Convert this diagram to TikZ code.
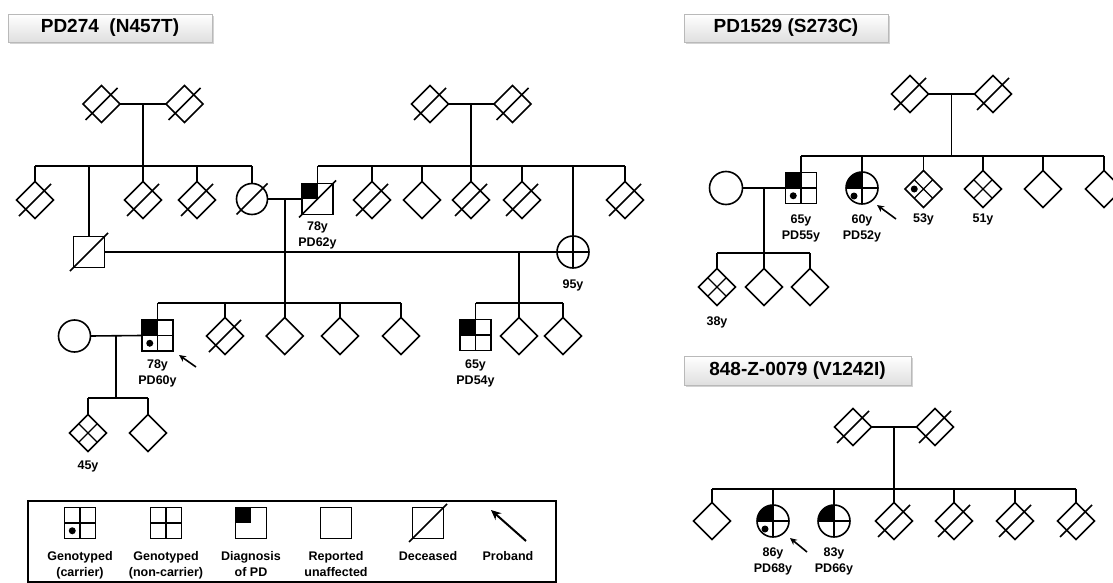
\documentclass[tikz,border=0pt]{standalone}
\usepackage{fontspec}
\setmainfont{Liberation Sans}
\usetikzlibrary{shapes.geometric,calc,shadows,arrows.meta}
\newcommand\deadmark[2]{\draw[lw] ($(#1.center)+(-#2,#2)$) -- ($(#1.center)+(#2,-#2)$);}
\begin{document}
\begin{tikzpicture}[x=1pt,y=-1pt,
 lw/.style={line width=1.6pt},
 ind/.style={draw,line width=1.6pt,inner sep=0pt,outer sep=0pt,fill=white},
 sq/.style={ind,rectangle,minimum size=31pt},
 ci/.style={ind,circle,minimum size=32pt},
 di/.style={ind,diamond,minimum size=37pt},
 qlines/.style={line width=1.3pt,draw=black},
 pp-q/.style={path picture={\draw[qlines] (path picture bounding box.north)--(path picture bounding box.south) (path picture bounding box.west)--(path picture bounding box.east);}},
 pp-tl/.style={path picture={\fill[black] (path picture bounding box.center) rectangle (path picture bounding box.north west);}},
 pp-tlq/.style={path picture={\fill[black] (path picture bounding box.center) rectangle (path picture bounding box.north west);
   \draw[qlines] (path picture bounding box.north)--(path picture bounding box.south) (path picture bounding box.west)--(path picture bounding box.east);}},
 pp-tlqd/.style={path picture={\fill[black] (path picture bounding box.center) rectangle (path picture bounding box.north west);
   \draw[qlines] (path picture bounding box.north)--(path picture bounding box.south) (path picture bounding box.west)--(path picture bounding box.east);
   \fill[black] ($(path picture bounding box.center)!.5!(path picture bounding box.south west)$) circle[radius=3.5pt];}},
 pp-qd/.style={path picture={\draw[qlines] (path picture bounding box.north)--(path picture bounding box.south) (path picture bounding box.west)--(path picture bounding box.east);
   \fill[black] ($(path picture bounding box.center)!.5!(path picture bounding box.south west)$) circle[radius=3.5pt];}},
 pp-dq/.style={path picture={\draw[qlines] ($(path picture bounding box.north)!.5!(path picture bounding box.west)$) -- ($(path picture bounding box.south)!.5!(path picture bounding box.east)$) ($(path picture bounding box.north)!.5!(path picture bounding box.east)$) -- ($(path picture bounding box.south)!.5!(path picture bounding box.west)$);}},
 pp-dqd/.style={path picture={\draw[qlines] ($(path picture bounding box.north)!.5!(path picture bounding box.west)$) -- ($(path picture bounding box.south)!.5!(path picture bounding box.east)$) ($(path picture bounding box.north)!.5!(path picture bounding box.east)$) -- ($(path picture bounding box.south)!.5!(path picture bounding box.west)$);
   \fill[black] ($(path picture bounding box.center)!.5!(path picture bounding box.west)$) circle[radius=3.5pt];}},
 lab/.style={font=\bfseries\fontsize{12.5}{16}\selectfont,align=center,inner sep=0pt},
 leglab/.style={font=\bfseries\fontsize{12.5}{16}\selectfont,inner sep=0pt,anchor=base},
 ttl/.style={draw=gray!55,line width=0.8pt,top color=white,bottom color=gray!25,
   drop shadow={shadow xshift=1.5pt,shadow yshift=-2pt,opacity=0.35,fill=gray},
   font=\bfseries\fontsize{19}{19}\selectfont,inner sep=0pt},
 prob/.style={lw,-{Stealth[length=7pt,width=6.5pt]}}
]
\useasboundingbox (0,0) rectangle (1113,583);

% ---------------- titles
\node[ttl,minimum width=204pt,minimum height=28pt] (T1) at (110,28) {PD274~~(N457T)};
\node[ttl,minimum width=204pt,minimum height=28pt] (T2) at (786,28) {PD1529 (S273C)};
\node[ttl,minimum width=227pt,minimum height=29pt] (T3) at (797.5,370.5) {848-Z-0079 (V1242I)};

% ================= PD274
\node[di] (a1) at (101.5,104) {};
\node[di] (a2) at (184.5,104) {};
\node[di] (b1) at (430,104) {};
\node[di] (b2) at (512.5,104) {};

\node[di] (c1) at (35,200) {};
\node[sq] (dd) at (89,252) {};
\node[di] (c3) at (143,200) {};
\node[di] (c4) at (197,200) {};
\node[ci,minimum size=31pt] (cc) at (252,199) {};
\node[sq,pp-tl] (p62) at (317.5,199) {};
\node[di] (r2) at (372,200) {};
\node[di] (r3) at (422,200) {};
\node[di] (r4) at (471,200) {};
\node[di] (r5) at (522,200) {};
\node[ci,pp-q] (e95) at (573,252) {};
\node[di] (r7) at (625,200) {};

\node[ci] (sp1) at (74.5,336) {};
\node[sq,pp-tlqd] (prb) at (157.5,335.5) {};
\node[di] (g2) at (225,336) {};
\node[di] (g3) at (284.75,336) {};
\node[di] (g4) at (340,336) {};
\node[di] (g5) at (401,336) {};
\node[sq,pp-tlq] (h1) at (475.5,335) {};
\node[di] (h2) at (519,336) {};
\node[di] (h3) at (563,336) {};

\node[di,pp-dq] (k1) at (88,433) {};
\node[di] (k2) at (148,433) {};

% lines
\coordinate (sA) at (0,166);
\coordinate (sC) at (0,303);
\coordinate (sD) at (0,398);
\draw[lw] (a1.east) -- (a2.west);
\coordinate (mA) at ($(a1.east)!.5!(a2.west)$);
\draw[lw] (mA) -- (mA |- sA);
\draw[lw] (c1.north |- sA) -- (cc.north |- sA);
\foreach \n in {c1,dd,c3,c4,cc} \draw[lw] (\n.north) -- (\n.north |- sA);

\draw[lw] (b1.east) -- (b2.west);
\coordinate (mB) at ($(b1.east)!.5!(b2.west)$);
\draw[lw] (mB) -- (mB |- sA);
\draw[lw] (p62.north |- sA) -- (r7.north |- sA);
\foreach \n in {p62,r2,r3,r4,r5,e95,r7} \draw[lw] (\n.north) -- (\n.north |- sA);

\draw[lw] (cc.east) -- (p62.west);
\coordinate (mC) at ($(cc.east)!.5!(p62.west)$);
\draw[lw] (dd.east) -- (e95.west);
\coordinate (mE) at (519,252);
\draw[lw] (mC) -- (mC |- sC);
\draw[lw] (prb.north |- sC) -- (g5.north |- sC);
\foreach \n in {prb,g2,g3,g4,g5} \draw[lw] (\n.north) -- (\n.north |- sC);
\draw[lw] (mE) -- (mE |- sC);
\draw[lw] (h1.north |- sC) -- (h3.north |- sC);
\foreach \n in {h1,h2,h3} \draw[lw] (\n.north) -- (\n.north |- sC);

\draw[lw] (sp1.east) -- (prb.west);
\coordinate (mP) at ($(sp1.east)!.5!(prb.west)$);
\draw[lw] (mP) -- (mP |- sD);
\draw[lw] (k1.north |- sD) -- (k2.north |- sD);
\foreach \n in {k1,k2} \draw[lw] (\n.north) -- (\n.north |- sD);

\foreach \n in {a1,a2,b1,b2,c1,c3,c4,r2,r4,r5,r7,g2} {\deadmark{\n}{16}}
\deadmark{dd}{19}
\deadmark{p62}{18.5}
\deadmark{cc}{15.5}

\node[lab] (t62) at (317.5,235.5) {78y\\PD62y};
\node[lab] (t95) at (573,285) {95y};
\node[lab] (tprb) at (157.5,373) {78y\\PD60y};
\node[lab] (th1) at (475.5,373) {65y\\PD54y};
\node[lab] (t45) at (88,466) {45y};
\coordinate (ar1s) at (196,367);
\coordinate (ar1e) at ($(prb.south east)+(6,4)$);
\draw[prob] (ar1s) -- (ar1e);

% ================= PD1529
\node[di] (f1) at (910,94) {};
\node[di] (f2) at (993,94) {};
\node[ci,minimum size=33pt] (m1) at (726,188) {};
\node[sq,pp-tlqd] (g65) at (801,188) {};
\node[ci,pp-tlqd] (h60) at (862,188) {};
\node[di,pp-dqd] (i53) at (923.5,189) {};
\node[di,pp-dq] (j51) at (983,189) {};
\node[di] (kr) at (1043,189) {};
\node[di] (lr) at (1104,189) {};
\node[di,pp-dq] (n38) at (717,287) {};
\node[di] (o2) at (764,287) {};
\node[di] (p2) at (810,287) {};

\coordinate (sF) at (0,156);
\coordinate (sM) at (0,253);
\draw[lw] (f1.east) -- (f2.west);
\coordinate (mF) at ($(f1.east)!.5!(f2.west)$);
\draw[lw] (mF) -- (mF |- sF);
\draw[lw] (g65.north |- sF) -- (lr.north |- sF);
\foreach \n in {g65,h60,i53,j51,kr,lr} \draw[lw] (\n.north) -- (\n.north |- sF);
\draw[lw] (m1.east) -- (g65.west);
\coordinate (mM) at ($(m1.east)!.5!(g65.west)$);
\draw[lw] (mM) -- (mM |- sM);
\draw[lw] (n38.north |- sM) -- (p2.north |- sM);
\foreach \n in {n38,o2,p2} \draw[lw] (\n.north) -- (\n.north |- sM);
\deadmark{f1}{16}
\deadmark{f2}{16}

\node[lab] (t65) at (801,228.5) {65y\\PD55y};
\node[lab] (t60) at (862,228.5) {60y\\PD52y};
\node[lab] (t53) at (923.5,219) {53y};
\node[lab] (t51) at (983,219) {51y};
\node[lab] (t38) at (717,322) {38y};
\coordinate (ar2s) at (896,219);
\coordinate (ar2e) at (877,205);
\draw[prob] (ar2s) -- (ar2e);

% ================= 848-Z-0079
\node[di] (q1) at (853,427) {};
\node[di] (q2) at (935,427) {};
\node[di] (s1) at (712,521) {};
\node[ci,pp-tlqd] (s2) at (773,521) {};
\node[ci,pp-tlq] (s3) at (834,521) {};
\node[di] (s4) at (894,521) {};
\node[di] (s5) at (954,521) {};
\node[di] (s6) at (1015,521) {};
\node[di] (s7) at (1076,521) {};
\coordinate (sQ) at (0,489);
\draw[lw] (q1.east) -- (q2.west);
\coordinate (mQ) at ($(q1.east)!.5!(q2.west)$);
\draw[lw] (mQ) -- (mQ |- sQ);
\draw[lw] (s1.north |- sQ) -- (s7.north |- sQ);
\foreach \n in {s1,s2,s3,s4,s5,s6,s7} \draw[lw] (\n.north) -- (\n.north |- sQ);
\foreach \n in {q1,q2,s4,s5,s6,s7} {\deadmark{\n}{16}}
\node[lab] (t86) at (773,561.5) {86y\\PD68y};
\node[lab] (t83) at (834,561.5) {83y\\PD66y};
\coordinate (ar3s) at (807,552);
\coordinate (ar3e) at (790,538);
\draw[prob] (ar3s) -- (ar3e);

% ================= legend
\draw[line width=1.2pt] (28,501) rectangle (556,582);
\node[sq,pp-qd] (L1) at (80,523) {};
\node[sq,pp-q] (L2) at (166,523) {};
\node[sq,pp-tl] (L3) at (251,523) {};
\node[sq] (L4) at (336,523) {};
\node[sq] (L5) at (428,523) {};
\deadmark{L5}{19}
\coordinate (L6s) at (526,541);
\coordinate (L6e) at (491,510);
\draw[line width=2pt,-{Stealth[length=10pt,width=9pt]}] (L6s) -- (L6e);
\node[leglab] (l1a) at (80,560) {Genotyped};
\node[leglab] (l1b) at (80,576) {(carrier)};
\node[leglab] (l2a) at (166,560) {Genotyped};
\node[leglab] (l2b) at (166,576) {(non-carrier)};
\node[leglab] (l3a) at (251,560) {Diagnosis};
\node[leglab] (l3b) at (251,576) {of PD};
\node[leglab] (l4a) at (336,560) {Reported};
\node[leglab] (l4b) at (336,576) {unaffected};
\node[leglab] (l5) at (428,560) {Deceased};
\node[leglab] (l6) at (508,560) {Proband};
\end{tikzpicture}
\end{document}
